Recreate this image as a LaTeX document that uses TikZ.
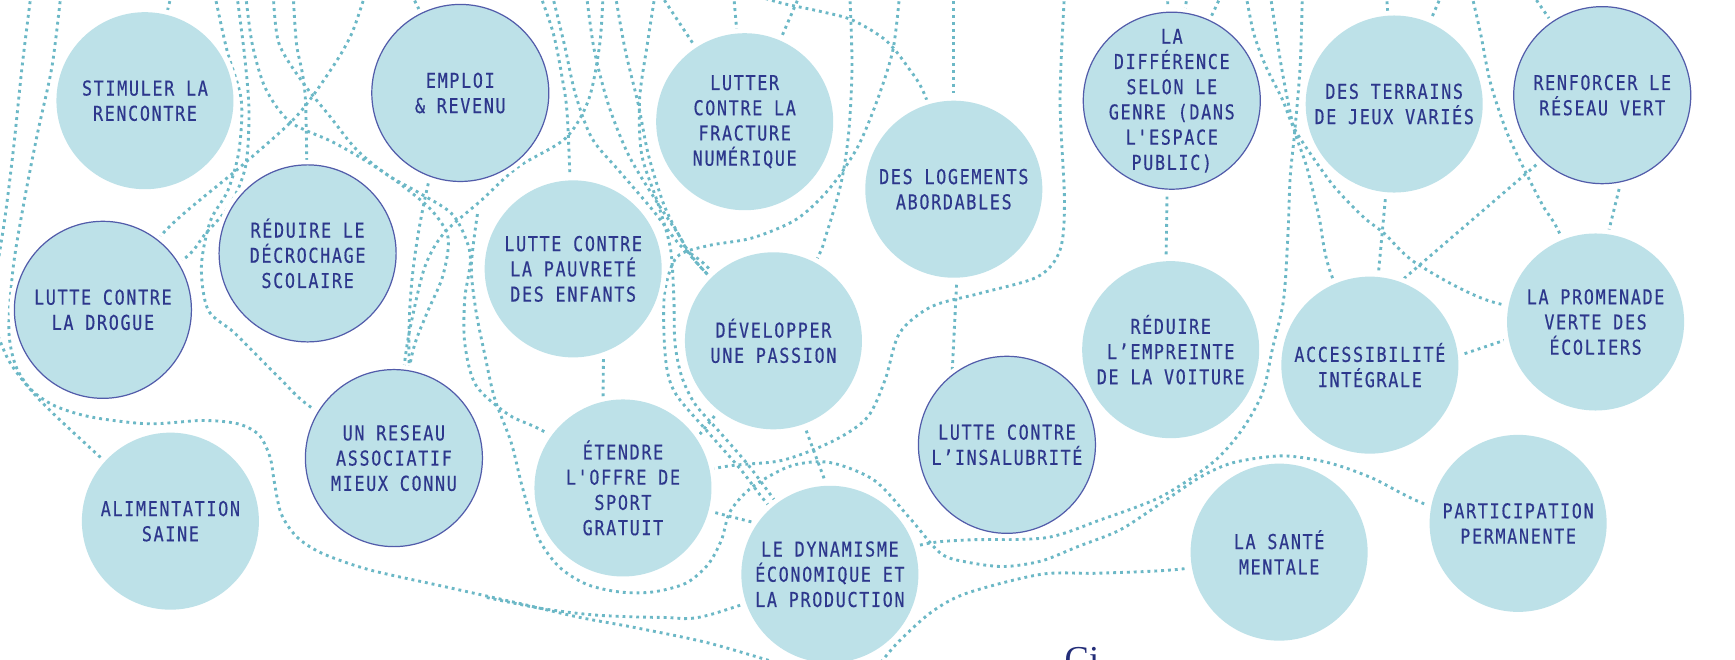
\documentclass[tikz,border=0pt]{standalone}
\usepackage{fontspec}
\newfontfamily\bubfont{DejaVu Sans Mono}[FakeStretch=0.82,FakeBold=0.4,LetterSpace=8,Ligatures=TeXOff]
\newfontfamily\notefont{Liberation Serif}

\definecolor{bubfill}{RGB}{189,225,232}
\definecolor{bubline}{RGB}{82,92,170}
\definecolor{bubtext}{RGB}{45,55,140}
\definecolor{dotcol}{RGB}{108,184,198}
\definecolor{notecol}{RGB}{35,45,120}

\pgfdeclarelayer{bg}
\pgfsetlayers{bg,main}

\tikzset{
  bub/.style={circle, fill=bubfill, minimum size=160pt, inner sep=0pt,
    align=center, text=bubtext, font=\bubfont\fontsize{18.5}{22.8}\selectfont,
    preaction={draw=white, line width=9pt}},
  bubo/.style={bub, draw=bubline, line width=1.1pt},
  dots/.style={draw=dotcol, line width=2.6pt, dash pattern=on 2.6pt off 3.6pt},
}

\begin{document}
\begin{tikzpicture}[x=1pt,y=-1pt]
\useasboundingbox (0,0) rectangle (1568,596);

% bulles
\node[bub]  (stimuler)   at (131,91)   {STIMULER LA\\RENCONTRE};
\node[bubo] (emploi)     at (416,84)   {EMPLOI\\\& REVENU};
\node[bub]  (lutter)     at (673,110)  {LUTTER\\CONTRE LA\\FRACTURE\\NUMÉRIQUE};
\node[bub]  (logements)  at (862,171)  {DES LOGEMENTS\\ABORDABLES};
\node[bubo, inner sep=-12pt] (difference) at (1059,91)  {LA\\DIFFÉRENCE\\SELON LE\\GENRE (DANS\\L'ESPACE\\PUBLIC)};
\node[bub]  (terrains)   at (1260,94)  {DES TERRAINS\\DE JEUX VARIÉS};
\node[bubo] (renforcer)  at (1448,86)  {RENFORCER LE\\RÉSEAU VERT};
\node[bubo] (reduire)    at (278,229)  {RÉDUIRE LE\\DÉCROCHAGE\\SCOLAIRE};
\node[bubo] (drogue)     at (93,280)   {LUTTE CONTRE\\LA DROGUE};
\node[bub]  (pauvrete)   at (518,243)  {LUTTE CONTRE\\LA PAUVRETÉ\\DES ENFANTS};
\node[bub]  (developper) at (699,308)  {DÉVELOPPER\\UNE PASSION};
\node[bub]  (empreinte)  at (1058,316) {RÉDUIRE\\L’EMPREINTE\\DE LA VOITURE};
\node[bub]  (access)     at (1238,330) {ACCESSIBILITÉ\\INTÉGRALE};
\node[bub]  (promenade)  at (1442,291) {LA PROMENADE\\VERTE DES\\ÉCOLIERS};
\node[bubo] (reseau)     at (356,414)  {UN RESEAU\\ASSOCIATIF\\MIEUX CONNU};
\node[bub]  (aliment)    at (154,471)  {ALIMENTATION\\SAINE};
\node[bub]  (etendre)    at (563,441)  {ÉTENDRE\\L'OFFRE DE\\SPORT\\GRATUIT};
\node[bubo] (insalub)    at (910,402)  {LUTTE CONTRE\\L’INSALUBRITÉ};
\node[bub]  (dynamisme)  at (750,519)  {LE DYNAMISME\\ÉCONOMIQUE ET\\LA PRODUCTION};
\node[bub]  (sante)      at (1156,499) {LA SANTÉ\\MENTALE};
\node[bub]  (particip)   at (1372,473) {PARTICIPATION\\PERMANENTE};

\node[anchor=base west, inner sep=0pt, text=notecol, font=\notefont\fontsize{33}{38}\selectfont] (note) at (962,607) {Ci};

% bouts libres en haut
\coordinate (h1) at (155,-5);
\coordinate (h2) at (372,-5);
\coordinate (h3) at (597,-5);
\coordinate (h4) at (663,-5);
\coordinate (h5) at (723,-5);
\coordinate (h6) at (862,-5);
\coordinate (h7) at (1055,-5);
\coordinate (h8) at (1073,-5);
\coordinate (h9) at (1104,-5);
\coordinate (h10) at (1253,-5);
\coordinate (h11) at (1303,-5);
\coordinate (h12) at (1385,-5);

\begin{pgfonlayer}{bg}
% liaisons courtes
\draw[dots] (h1) -- (stimuler);
\draw[dots] (h2) -- (emploi);
\draw[dots] (h3) -- (lutter);
\draw[dots] (h4) -- (lutter);
\draw[dots] (h5) -- (lutter);
\draw[dots] (h6) -- (logements);
\draw[dots] (h7) -- (difference);
\draw[dots] (h8) -- (difference);
\draw[dots] (h9) -- (difference);
\draw[dots] (h10) -- (terrains);
\draw[dots] (h11) -- (terrains);
\draw[dots] (h12) -- (renforcer);
\draw[dots] (difference.-93) -- (empreinte.93);
\draw[dots] (logements.-88) -- (insalub.128);
\draw[dots] (terrains) -- (access);
\draw[dots] (renforcer.227) -- (access.70);
\draw[dots] (renforcer.-78) -- (promenade.82);
\draw[dots] (access.6) -- (promenade.191);
\draw[dots] (pauvrete.-70) -- (etendre.103);
\draw[dots] (developper.-70) -- (dynamisme.92);
\draw[dots] (developper.232) -- (etendre.34);
\draw[dots] (etendre.-15) -- (dynamisme.145);
\draw[dots] (emploi.250) .. controls (372,230) and (368,280) .. (reseau.80);

% gauche
\draw[dots] plot[smooth] coordinates {(28,-5) (20,60) (12,136) (4,200) (-6,262)};
\draw[dots] plot[smooth] coordinates {(55,-5) (47,60) (34,120) (22,181) (12,241) (8,298) (14,330) (28,352) (50,367) (83,377) (134,383) (183,380) (215,383) (234,393) (244,413) (248,436) (254,464) (268,485) (291,500) (334,515) (401,530) (468,545) (524,558) (573,567) (640,581) (705,600)};
\draw[dots] plot[smooth] coordinates {(-6,292) (8,326) (30,355) (60,385) (aliment)};
\draw[dots] plot[smooth] coordinates {(330,-5) (318,30) (301,60) (268,105) (217,151) (150,208) (drogue)};
\draw[dots] plot[smooth] coordinates {(194,-5) (205,45) (218,90) (216,136) (206,172) (190,200) (182,241) (188,280) (211,300) (234,323) (254,343) (281,368) (reseau)};
\draw[dots] plot[smooth] coordinates {(214,-5) (221,50) (225,100) (222,150) (208,185) (185,212) (165,235) (drogue)};
\draw[dots] plot[smooth] coordinates {(222,-5) (228,40) (240,80) (262,110) (300,128) (330,145) (360,165) (390,190) (405,215) (400,250) (385,285) (372,322) (reseau)};
\draw[dots] plot[smooth] coordinates {(247,-5) (252,39) (274,75) (298,105) (322,135) (350,158) (380,175) (410,195) (425,230) (420,270) (420,310) (430,348) (460,375) (495,392) (etendre)};
\draw[dots] plot[smooth] coordinates {(265,-5) (268,40) (276,90) (reduire)};
\draw[dots] plot[smooth] coordinates {(440,540) (490,550) (540,556) (600,558) (640,556) (dynamisme)};

% milieu
\draw[dots] plot[smooth] coordinates {(488,-5) (500,30) (508,70) (513,110) (pauvrete)};
\draw[dots] plot[smooth] coordinates {(499,-5) (510,40) (520,85) (535,125) (560,155) (590,190) (615,222) (640,242) (developper)};
\draw[dots] plot[smooth] coordinates {(545,-5) (542,40) (532,90) (511,125) (468,151) (435,181) (401,211) (384,241) (372,290) (366,325) (reseau)};
\draw[dots] plot[smooth] coordinates {(530,-5) (537,45) (550,95) (568,140) (592,180) (612,210) (632,240) (developper)};
\draw[dots] plot[smooth] coordinates {(556,-5) (565,45) (577,95) (586,140) (600,185) (615,215) (630,238) (developper)};
\draw[dots] plot[smooth] coordinates {(592,-5) (585,40) (578,90) (580,140) (595,185) (606,225) (609,270) (610,310) (616,340) (628,365) (650,390) (676,420) (700,452) (dynamisme)};
\draw[dots] plot[smooth] coordinates {(813,-5) (807,45) (793,90) (775,133) (750,170) (720,198) (680,215) (640,222) (612,232) (601,262) (600,300) (603,335) (612,358) (642,393) (670,425) (694,456) (dynamisme)};
\draw[dots] plot[smooth] coordinates {(768,-5) (770,60) (767,120) (760,166) (747,211) (738,235) (developper)};
\draw[dots] plot[smooth] coordinates {(680,-5) (707,3) (740,10) (770,18) (800,36) (820,60) (837,89) (logements)};
\draw[dots] plot[smooth] coordinates {(962,-5) (958,90) (962,181) (958,226) (938,250) (886,265) (842,277) (813,301) (800,343) (784,377) (754,398) (707,416) (653,422) (etendre)};

% droite
\draw[dots] plot[smooth] coordinates {(1177,-5) (1175,60) (1170,120) (1166,160) (1164,211) (1160,271) (1150,315) (1141,355) (1122,389) (1096,418) (1049,449) (994,470) (945,486) (874,488) (830,493) (dynamisme)};
\draw[dots] plot[smooth] coordinates {(1148,-5) (1158,60) (1169,115) (1181,151) (1192,196) (1202,245) (access)};
\draw[dots] plot[smooth] coordinates {(1126,-5) (1133,30) (1144,60) (1159,90) (1169,115) (1185,140) (1206,169) (1232,196) (1251,211) (1280,238) (1346,272) (promenade)};
\draw[dots] plot[smooth] coordinates {(1330,-5) (1338,30) (1347,75) (1362,120) (1381,160) (1395,187) (1410,212) (promenade)};
\draw[dots] plot[smooth] coordinates {(sante) (1070,514) (994,518) (941,519) (874,536) (842,553) (812,580) (795,600)};
\draw[dots] plot[smooth] coordinates {(particip) (1292,457) (1240,432) (1200,418) (1159,412) (1115,418) (1085,431) (1049,455) (1012,479) (974,494) (941,507) (907,512) (874,508) (850,500) (822,468) (790,434) (750,418) (715,421) (680,440) (660,462) (652,488) (640,510) (620,527) (590,535) (560,535) (530,528) (505,512) (486,485) (472,440) (462,400) (447,360) (438,320) (430,280) (426,240) (432,190)};
\end{pgfonlayer}
\end{tikzpicture}
\end{document}
